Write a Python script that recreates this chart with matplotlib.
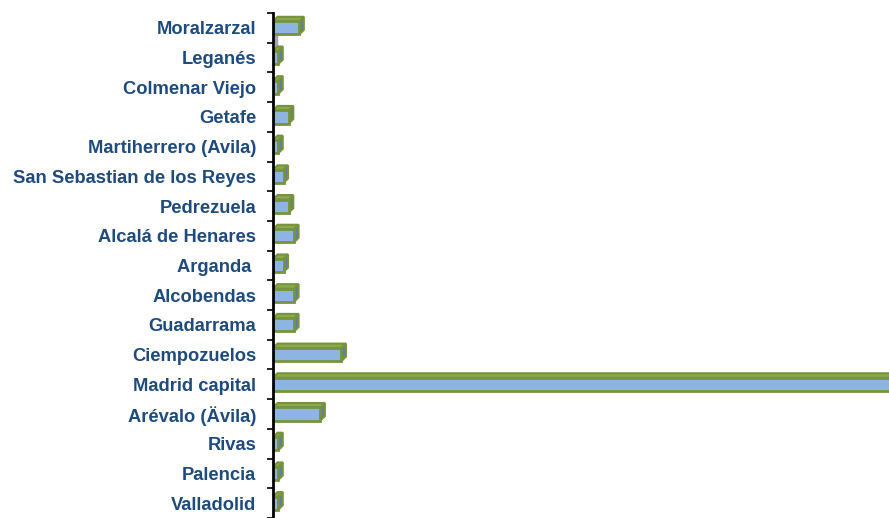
import numpy as np
import matplotlib.pyplot as plt
from matplotlib.patches import Polygon
import matplotlib.transforms as mtransforms

# Data (top to bottom)
places = ['Moralzarzal', 'Leganés', 'Colmenar Viejo', 'Getafe', 'Martiherrero (Avila)',
          'San Sebastian de los Reyes', 'Pedrezuela', 'Alcalá de Henares', 'Arganda ',
          'Alcobendas', 'Guadarrama', 'Ciempozuelos', 'Madrid capital', 'Arévalo (Ävila)',
          'Rivas', 'Palencia', 'Valladolid']
counts = [5, 1, 1, 3, 1, 2, 3, 4, 2, 4, 4, 13, 150, 9, 1, 1, 1]

# Colours
front_col = '#8DB4E2'
edge_col = '#77933C'
top_col = '#8AAA4C'
side_col = '#5F7F9F'
label_col = '#1F4A7D'

W, H, DPI = 889, 518, 100
fig = plt.figure(figsize=(W / DPI, H / DPI), dpi=DPI)
ax = fig.add_axes([273 / W, 0.0, 1 - 273 / W, 1 - 13 / H])

pos = np.arange(len(places))
ax.set_xlim(0, 117)
ax.set_ylim(len(places) - 0.5, -0.5)

bar_h = 0.44
bars = ax.barh(pos, counts, height=bar_h, color=front_col, edgecolor=edge_col,
               linewidth=2.0, zorder=3)

# 3D depth: offset of a few pixels up and right
depth = 4.5
p0 = ax.transData.transform((0, 0))
p1 = ax.transData.inverted().transform(p0 + np.array([depth, depth]))
dx, dy = p1[0], p1[1]

for i, v in zip(pos, counts):
    top = i - bar_h / 2
    bot = i + bar_h / 2
    top_face = Polygon([(0, top), (v, top), (v + dx, top + dy), (dx, top + dy)],
                       closed=True, facecolor=top_col, edgecolor=edge_col,
                       linewidth=1.5, zorder=2)
    side_face = Polygon([(v, top), (v + dx, top + dy), (v + dx, bot + dy), (v, bot)],
                        closed=True, facecolor=side_col, edgecolor=edge_col,
                        linewidth=1.5, zorder=2)
    ax.add_patch(top_face)
    ax.add_patch(side_face)

# axis wall shadow
wall = mtransforms.offset_copy(ax.get_yaxis_transform(), fig, x=2.5, y=0, units='dots')
ax.plot([0, 0], [0, 1], transform=wall, color='#A6A6A6', lw=2.5, zorder=1, clip_on=False)

for s in ['top', 'right', 'bottom']:
    ax.spines[s].set_visible(False)
ax.spines['left'].set_linewidth(2)
ax.spines['left'].set_color('black')
ax.spines['left'].set_zorder(4)

ax.set_xticks([])
ax.set_yticks(pos)
ax.set_yticklabels(places, fontsize=13.2, fontweight='bold', color=label_col,
                   fontfamily='Liberation Sans')
ax.tick_params(axis='y', which='major', length=0, pad=12)
ax.set_yticks(np.arange(len(places) + 1) - 0.5, minor=True)
ax.tick_params(axis='y', which='minor', length=4.3, width=1.2, color='black', direction='out')

fig.savefig('out.png', dpi=DPI)
